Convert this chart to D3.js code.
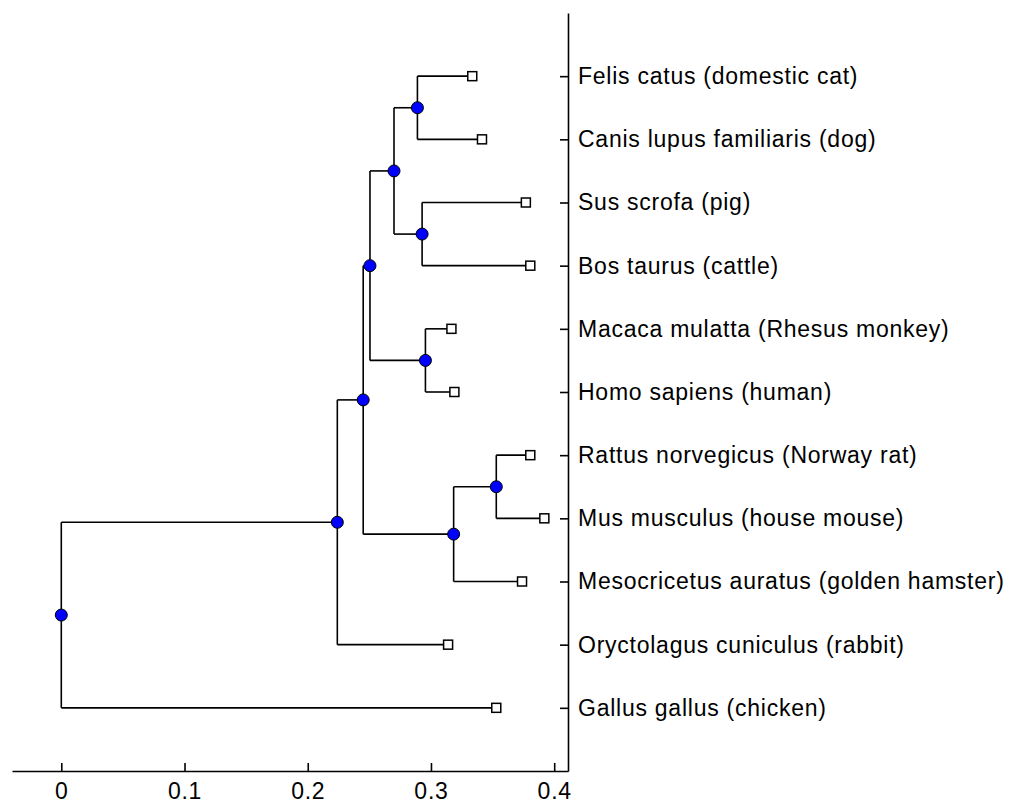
<!DOCTYPE html>
<html>
<head>
<meta charset="utf-8">
<script src="https://cdn.jsdelivr.net/npm/d3@7"></script>
<style>
  body { margin: 0; background: #fff; }
  svg { display: block; }
  .tick text { font-family: "Liberation Sans", Arial, sans-serif; font-size: 23px; letter-spacing: 0.75px; fill: #000; }
</style>
</head>
<body>
<div id="chart"></div>
<script>
// leaves, top to bottom, with their distance from the root
var leafNames = [
    "Felis catus (domestic cat)",
    "Canis lupus familiaris (dog)",
    "Sus scrofa (pig)",
    "Bos taurus (cattle)",
    "Macaca mulatta (Rhesus monkey)",
    "Homo sapiens (human)",
    "Rattus norvegicus (Norway rat)",
    "Mus musculus (house mouse)",
    "Mesocricetus auratus (golden hamster)",
    "Oryctolagus cuniculus (rabbit)",
    "Gallus gallus (chicken)"
];
var leafDist = [0.3335, 0.3414, 0.377, 0.3806, 0.3166, 0.319, 0.3806, 0.392, 0.3739, 0.3139, 0.353];

// internal nodes: ids 11.., children refer to leaf or node ids
var nodeChildren = [[0, 1], [2, 3], [11, 12], [4, 5], [13, 14], [6, 7], [16, 8], [15, 17], [18, 9], [19, 10]];
var nodeDist = [0.289, 0.2928, 0.270, 0.2955, 0.2505, 0.353, 0.3184, 0.245, 0.224, 0];

var xTicks = [0, 0.1, 0.2, 0.3, 0.4];

var width = 1011, height = 805;

function build(id) {
    if (id < leafNames.length) {
        return {id: id, name: leafNames[id], dist: leafDist[id]};
    }
    var k = id - leafNames.length;
    return {id: id, dist: nodeDist[k], children: nodeChildren[k].map(build)};
}

var root = d3.hierarchy(build(leafNames.length + nodeChildren.length - 1));

// leaf rows 1..n, internal nodes at the mean of their children
root.eachAfter(function(d) {
    if (!d.children) d.row = d.data.id + 1;
    else d.row = d3.mean(d.children, function(c) { return c.row; });
});

var x = d3.scaleLinear().domain([-0.04, 0.4112]).range([12, 568]);
var y = d3.scaleLinear().domain([0, 12]).range([13, 771]);

var svg = d3.select("#chart")
    .append("svg")
    .attr("width", width)
    .attr("height", height);

svg.append("rect").attr("width", width).attr("height", height).attr("fill", "#fff");

// branches
var links = svg.append("g")
    .attr("fill", "none")
    .attr("stroke", "#000")
    .attr("stroke-width", 1.6);

root.descendants().filter(function(d) { return d.children; }).forEach(function(d) {
    var ys = d.children.map(function(c) { return c.row; });
    links.append("line")
        .attr("x1", x(d.data.dist)).attr("x2", x(d.data.dist))
        .attr("y1", y(d3.min(ys))).attr("y2", y(d3.max(ys)));
    d.children.forEach(function(c) {
        links.append("line")
            .attr("x1", x(d.data.dist)).attr("x2", x(c.data.dist))
            .attr("y1", y(c.row)).attr("y2", y(c.row));
    });
});

// axes
svg.append("g")
    .attr("transform", "translate(0," + y(12) + ")")
    .call(d3.axisBottom(x)
        .tickValues(xTicks)
        .tickFormat(d3.format(""))
        .tickSizeInner(-8)
        .tickSizeOuter(0)
        .tickPadding(12));

svg.append("g")
    .attr("transform", "translate(" + x.range()[1] + ",0)")
    .call(d3.axisRight(y)
        .tickValues(d3.range(1, leafNames.length + 1))
        .tickFormat(function(i) { return leafNames[i - 1]; })
        .tickSizeInner(-8)
        .tickSizeOuter(0)
        .tickPadding(10));

svg.selectAll(".domain, .tick line").attr("stroke", "#000").attr("stroke-width", 1.6);

// leaf markers
svg.append("g").selectAll("rect")
    .data(root.leaves())
    .enter()
    .append("rect")
    .attr("x", function(d) { return x(d.data.dist) - 4.5; })
    .attr("y", function(d) { return y(d.row) - 4.5; })
    .attr("width", 9)
    .attr("height", 9)
    .attr("fill", "#fff")
    .attr("stroke", "#000")
    .attr("stroke-width", 1.5);

// branch points
svg.append("g").selectAll("circle")
    .data(root.descendants().filter(function(d) { return d.children; }))
    .enter()
    .append("circle")
    .attr("cx", function(d) { return x(d.data.dist); })
    .attr("cy", function(d) { return y(d.row); })
    .attr("r", 6)
    .attr("fill", "#0000ff")
    .attr("stroke", "#000")
    .attr("stroke-width", 1);
</script>
</body>
</html>
